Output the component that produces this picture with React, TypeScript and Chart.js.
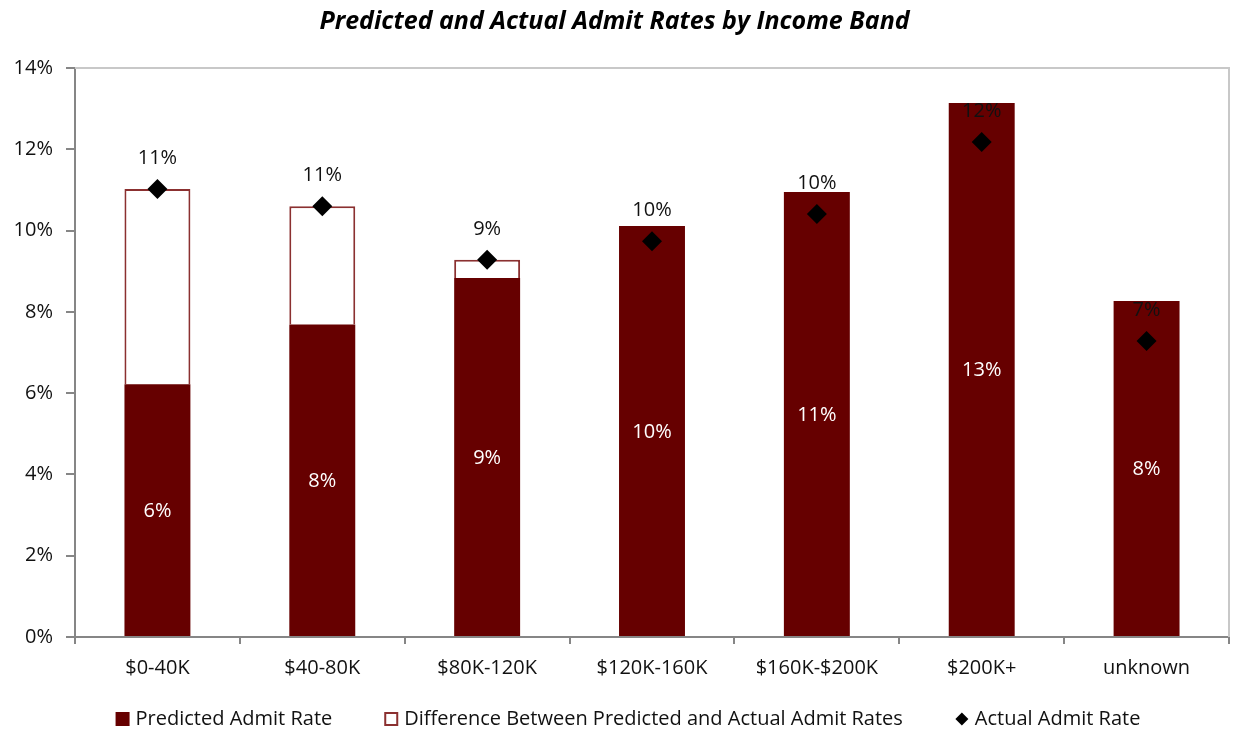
import React, { useEffect, useRef } from "react";
import { Chart, registerables } from "chart.js";

Chart.register(...registerables);

const TITLE = "Predicted and Actual Admit Rates by Income Band";
const CATEGORIES = ["$0-40K", "$40-80K", "$80K-120K", "$120K-160K", "$160K-$200K", "$200K+", "unknown"];
const PREDICTED = [6.22, 7.69, 8.83, 10.11, 10.95, 13.14, 8.27];
const ACTUAL = [11.02, 10.6, 9.28, 9.74, 10.41, 12.18, 7.28];
const SERIES_NAMES = [
  "Predicted Admit Rate",
  "Difference Between Predicted and Actual Admit Rates",
  "Actual Admit Rate",
];
const Y_MIN = 0;
const Y_MAX = 14;
const Y_STEP = 2;

const FONT = "'Open Sans', Lato, sans-serif";
const FONT_SIZE = 20;
const DARK_RED = "#660000";
const DIFF_BORDER = "#8B3030";
const AXIS_GRAY = "#868686";

const DIFFERENCE = ACTUAL.map((a, i) => (a - PREDICTED[i] > 0 ? a - PREDICTED[i] : null));

const fmtPct = (v: number) => `${Math.round(v)}%`;

const labelsPlugin = {
  id: "valueLabels",
  afterDatasetsDraw(chart: any) {
    const ctx = chart.ctx;
    ctx.save();
    ctx.font = `${FONT_SIZE}px ${FONT}`;
    ctx.textAlign = "center";
    ctx.textBaseline = "middle";
    const barMeta = chart.getDatasetMeta(0);
    barMeta.data.forEach((el: any, i: number) => {
      const v = chart.data.datasets[0].data[i];
      ctx.fillStyle = "#ffffff";
      ctx.fillText(fmtPct(v), el.x, (el.y + el.base) / 2 + 1);
    });
    const ptMeta = chart.getDatasetMeta(2);
    ptMeta.data.forEach((el: any, i: number) => {
      const v = chart.data.datasets[2].data[i];
      ctx.fillStyle = "#111111";
      ctx.fillText(fmtPct(v), el.x, el.y - 31);
    });
    ctx.restore();
  },
};

const framePlugin = {
  id: "frame",
  beforeDatasetsDraw(chart: any) {
    const { ctx, chartArea } = chart;
    ctx.save();
    ctx.strokeStyle = "#c8c8c8";
    ctx.lineWidth = 2;
    ctx.beginPath();
    ctx.moveTo(chartArea.left, chartArea.top);
    ctx.lineTo(chartArea.right, chartArea.top);
    ctx.lineTo(chartArea.right, chartArea.bottom);
    ctx.stroke();
    ctx.restore();
  },
};

const legendPlugin = {
  id: "customLegend",
  afterDraw(chart: any) {
    const ctx = chart.ctx;
    const ds = chart.data.datasets;
    const box = 14;
    const gapText = 6;
    const gapItem = 52;
    const y = 719;
    ctx.save();
    ctx.font = `${FONT_SIZE}px ${FONT}`;
    ctx.textBaseline = "middle";
    ctx.textAlign = "left";
    const widths = ds.map((d: any) => box + gapText + ctx.measureText(d.label).width);
    const total = widths.reduce((a: number, b: number) => a + b, 0) + gapItem * (ds.length - 1);
    let x = 628 - total / 2;
    ds.forEach((d: any, i: number) => {
      if (d.type === "line") {
        const cx = x + box / 2;
        const r = 6.5;
        ctx.fillStyle = d.pointBackgroundColor;
        ctx.beginPath();
        ctx.moveTo(cx - r, y);
        ctx.lineTo(cx, y - r);
        ctx.lineTo(cx + r, y);
        ctx.lineTo(cx, y + r);
        ctx.closePath();
        ctx.fill();
      } else {
        ctx.fillStyle = d.backgroundColor;
        ctx.fillRect(x, y - box / 2, box, box);
        if (d.borderWidth) {
          ctx.strokeStyle = d.borderColor;
          ctx.lineWidth = 2;
          ctx.strokeRect(x + 1, y - box / 2 + 1, box - 2, box - 2);
        }
      }
      ctx.fillStyle = "#111111";
      ctx.fillText(d.label, x + box + gapText, y);
      x += widths[i] + gapItem;
    });
    ctx.restore();
  },
};

export default function App() {
  const canvasRef = useRef<HTMLCanvasElement | null>(null);

  useEffect(() => {
    if (!canvasRef.current) return;
    const chart = new Chart(canvasRef.current, {
      type: "bar",
      data: {
        labels: CATEGORIES,
        datasets: [
          {
            type: "bar",
            label: SERIES_NAMES[0],
            data: PREDICTED,
            backgroundColor: DARK_RED,
            borderWidth: 0,
            stack: "rates",
            order: 1,
            barPercentage: 0.4,
            categoryPercentage: 1,
          },
          {
            type: "bar",
            label: SERIES_NAMES[1],
            data: DIFFERENCE,
            backgroundColor: "#ffffff",
            borderColor: DIFF_BORDER,
            borderWidth: 2,
            stack: "rates",
            order: 2,
            barPercentage: 0.4,
            categoryPercentage: 1,
          },
          {
            type: "line",
            label: SERIES_NAMES[2],
            data: ACTUAL,
            showLine: false,
            pointStyle: "rectRot",
            pointRadius: 10,
            pointHoverRadius: 10,
            pointBackgroundColor: "#000000",
            pointBorderColor: "#000000",
            pointBorderWidth: 0,
            borderColor: "#000000",
            backgroundColor: "#000000",
            stack: "actual",
            order: 0,
          } as any,
        ],
      },
      options: {
        responsive: false,
        animation: false,
        layout: { padding: { left: 0, right: 10, top: 0, bottom: 42 } },
        plugins: {
          legend: { display: false },
          tooltip: { enabled: false },
          title: {
            display: true,
            text: TITLE,
            color: "#000000",
            font: { family: FONT, size: 25, weight: "bold", style: "italic" },
            padding: { top: 7, bottom: 31 },
          },
        },
        scales: {
          x: {
            stacked: true,
            grid: {
              display: true,
              offset: true,
              drawOnChartArea: false,
              drawTicks: true,
              tickLength: 7,
              color: AXIS_GRAY,
              lineWidth: 2,
            },
            border: { display: true, color: AXIS_GRAY, width: 2 },
            ticks: { color: "#111111", font: { family: FONT, size: FONT_SIZE }, padding: 12, maxRotation: 0 },
            afterFit: (s: any) => {
              s.height = 50;
            },
          },
          y: {
            stacked: true,
            min: Y_MIN,
            max: Y_MAX,
            ticks: {
              stepSize: Y_STEP,
              callback: (v: any) => `${v}%`,
              color: "#111111",
              font: { family: FONT, size: FONT_SIZE },
              padding: 13,
            },
            grid: {
              drawOnChartArea: false,
              drawTicks: true,
              tickLength: 9,
              color: AXIS_GRAY,
              lineWidth: 2,
            },
            border: { display: true, color: AXIS_GRAY, width: 2 },
            afterFit: (s: any) => {
              s.width = 75;
            },
          },
        },
      } as any,
      plugins: [framePlugin, labelsPlugin, legendPlugin],
    });
    return () => chart.destroy();
  }, []);

  return (
    <div style={{ position: "fixed", left: 0, top: 0, width: 1239, height: 729, background: "#ffffff" }}>
      <canvas ref={canvasRef} width={1239} height={729} style={{ display: "block" }} />
    </div>
  );
}
